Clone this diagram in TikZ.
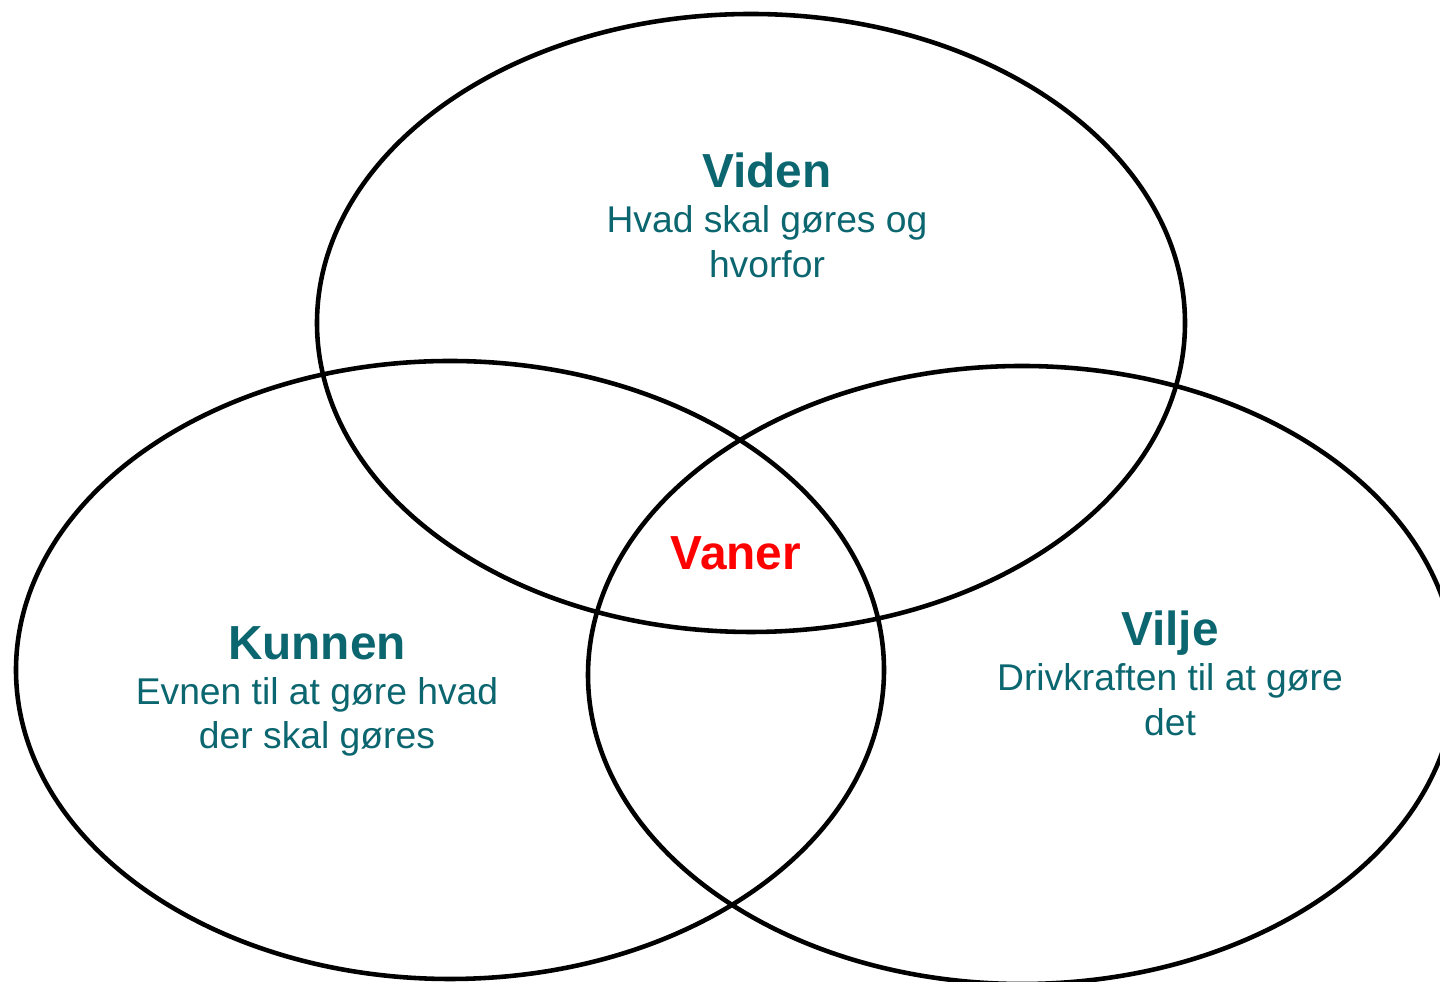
\documentclass[tikz,border=0pt]{standalone}
\usepackage{fontspec}
\setmainfont{Liberation Sans}
\definecolor{tealtekst}{RGB}{11,102,112}
\definecolor{rodtekst}{RGB}{255,0,0}
\begin{document}
\begin{tikzpicture}[line cap=round,line join=round,
    ring/.style={line width=1.3pt},
    titel/.style={anchor=base,inner sep=0pt,text=tealtekst,font=\fontsize{13.6}{16}\selectfont\bfseries},
    tekst/.style={anchor=base,inner sep=0pt,text=tealtekst,font=\fontsize{10.6}{12.8}\selectfont}]
    \useasboundingbox (0,0) rectangle (14.4,9.82);
    \clip (0,0) rectangle (14.4,9.82);
    % de tre ringe
    \draw[ring] (7.51,6.59) ellipse [x radius=4.34,y radius=3.09];
    \draw[ring] (4.50,3.12) ellipse [x radius=4.34,y radius=3.09];
    \draw[ring] (10.22,3.07) ellipse [x radius=4.34,y radius=3.09];
    % tekster
    \node[titel] (viden) at (7.67,7.94) {Viden};
    \node[tekst] (viden1) at (7.67,7.49) {Hvad skal gøres og};
    \node[tekst] (viden2) at (7.67,7.04) {hvorfor};
    \node[titel] (kunnen) at (3.17,3.22) {Kunnen};
    \node[tekst] (kunnen1) at (3.17,2.77) {Evnen til at gøre hvad};
    \node[tekst] (kunnen2) at (3.17,2.33) {der skal gøres};
    \node[titel] (vilje) at (11.70,3.36) {Vilje};
    \node[tekst] (vilje1) at (11.70,2.91) {Drivkraften til at gøre};
    \node[tekst] (vilje2) at (11.70,2.46) {det};
    \node[titel,text=rodtekst] (vaner) at (7.36,4.12) {Vaner};
\end{tikzpicture}
\end{document}
